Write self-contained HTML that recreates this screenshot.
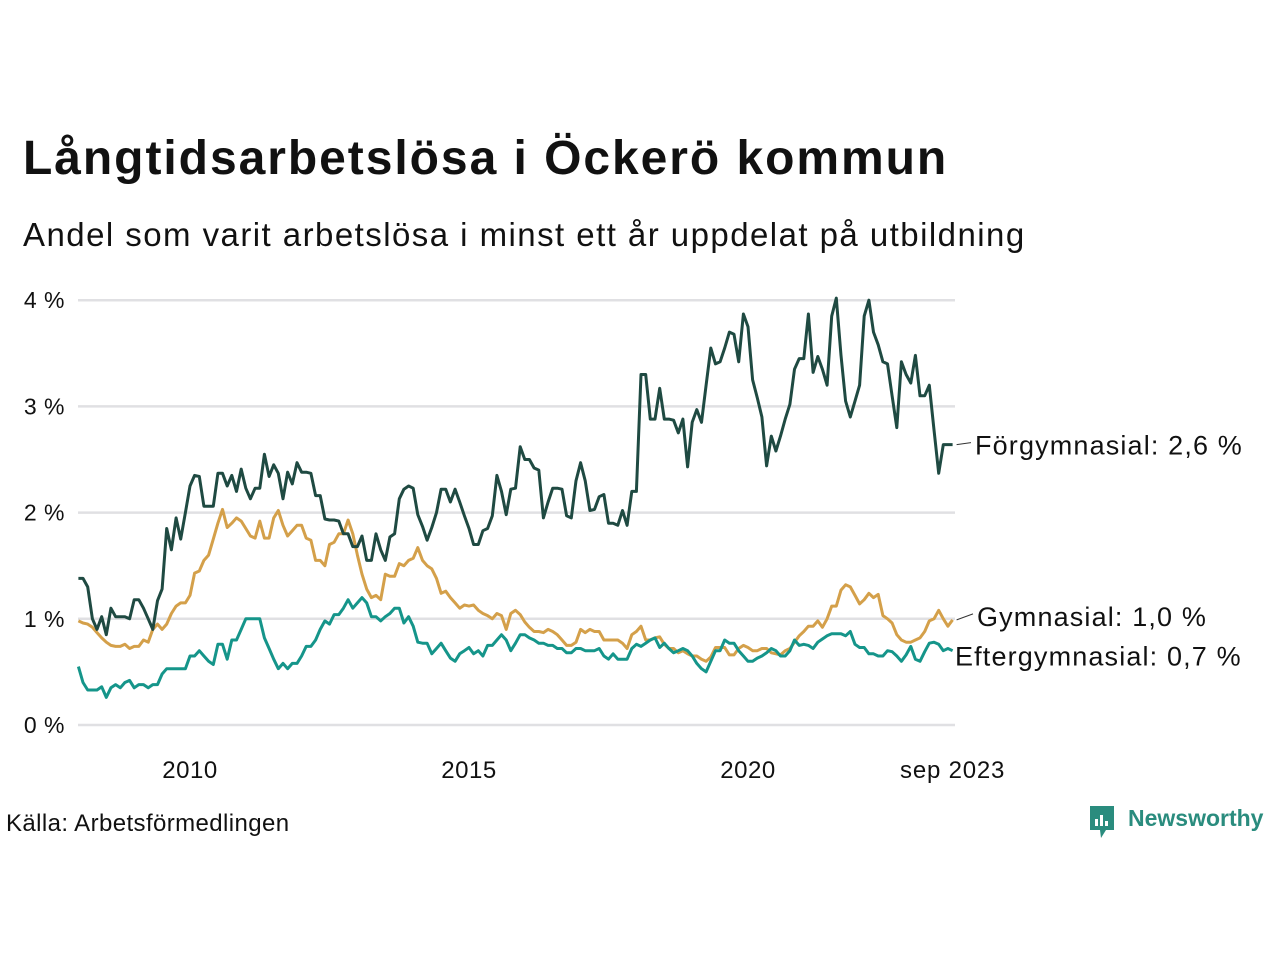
<!DOCTYPE html>
<html><head><meta charset="utf-8">
<style>
html,body{margin:0;padding:0;background:#fff;}
body{width:1280px;height:960px;position:relative;overflow:hidden;font-family:"Liberation Sans",sans-serif;color:#111;}
.t{position:absolute;white-space:nowrap;}
</style></head>
<body>
<div class="t" style="left:23px;top:131px;font-size:48px;font-weight:bold;letter-spacing:1.95px;">Långtidsarbetslösa i Öckerö kommun</div>
<div class="t" style="left:23px;top:216px;font-size:33px;letter-spacing:1.45px;">Andel som varit arbetslösa i minst ett år uppdelat på utbildning</div>
<svg id="chart" width="1280" height="960" style="position:absolute;left:0;top:0;" xmlns="http://www.w3.org/2000/svg"></svg>
<div class="t" style="left:6px;top:810px;font-size:24px;letter-spacing:0.4px;">Källa: Arbetsförmedlingen</div>
<div style="position:absolute;left:1088px;top:804px;">
<svg width="28" height="36" style="position:absolute;left:0;top:0"><path d="M2 2h24v24h-8l-5 8-1-8H2z" fill="#2a8c7e"/><rect x="7" y="15" width="3" height="7" fill="#fff"/><rect x="12" y="11" width="3" height="11" fill="#fff"/><rect x="17" y="17" width="3" height="5" fill="#fff"/></svg>
<div class="t" style="left:40px;top:1px;font-size:23px;font-weight:bold;color:#2a8c7e;">Newsworthy</div>
</div>
<script>
const years=[2010,2015,2020];
const yTicks=[0,1,2,3,4];
const forgym=[1.38,1.38,1.3,1.0,0.9,1.02,0.85,1.1,1.02,1.02,1.02,1.0,
1.18,1.18,1.1,1.0,0.9,1.17,1.28,1.85,1.65,1.95,1.75,2.0,
2.25,2.35,2.34,2.06,2.06,2.06,2.37,2.37,2.25,2.35,2.2,2.41,
2.23,2.13,2.23,2.23,2.55,2.34,2.45,2.37,2.13,2.38,2.27,2.47,
2.38,2.38,2.37,2.16,2.16,1.94,1.93,1.93,1.92,1.8,1.8,1.68,
1.68,1.78,1.55,1.55,1.8,1.65,1.55,1.77,1.8,2.13,2.22,2.25,
2.23,1.98,1.87,1.74,1.86,2.0,2.22,2.22,2.1,2.22,2.1,1.97,
1.85,1.7,1.7,1.83,1.85,1.97,2.35,2.2,1.98,2.22,2.23,2.62,
2.5,2.5,2.42,2.4,1.95,2.1,2.23,2.23,2.22,1.97,1.95,2.3,
2.47,2.3,2.02,2.03,2.15,2.17,1.9,1.9,1.88,2.02,1.88,2.2,
2.2,3.3,3.3,2.88,2.88,3.17,2.88,2.88,2.87,2.75,2.88,2.43,
2.85,2.97,2.85,3.2,3.55,3.4,3.42,3.55,3.7,3.68,3.42,3.87,
3.75,3.25,3.08,2.9,2.44,2.72,2.58,2.72,2.88,3.02,3.35,3.45,
3.45,3.87,3.32,3.47,3.35,3.2,3.85,4.02,3.48,3.05,2.9,3.05,
3.2,3.85,4.0,3.7,3.58,3.42,3.4,3.1,2.8,3.42,3.3,3.22,
3.48,3.1,3.1,3.2,2.78,2.37,2.64,2.64,2.64];
const gym=[0.98,0.96,0.95,0.92,0.87,0.82,0.78,0.75,0.74,0.74,0.76,0.72,
0.74,0.74,0.8,0.78,0.9,0.95,0.9,0.95,1.05,1.12,1.15,1.15,
1.22,1.43,1.45,1.55,1.6,1.75,1.9,2.03,1.86,1.9,1.95,1.92,
1.85,1.78,1.76,1.92,1.76,1.76,1.95,2.02,1.88,1.78,1.83,1.88,
1.88,1.76,1.74,1.55,1.55,1.5,1.7,1.72,1.8,1.8,1.93,1.8,
1.6,1.42,1.28,1.2,1.22,1.18,1.42,1.4,1.4,1.52,1.5,1.55,
1.57,1.67,1.55,1.5,1.47,1.38,1.24,1.26,1.2,1.15,1.1,1.13,
1.12,1.13,1.08,1.05,1.03,1.0,1.05,1.03,0.9,1.05,1.08,1.04,
0.97,0.92,0.88,0.88,0.87,0.9,0.88,0.85,0.8,0.75,0.75,0.78,
0.9,0.87,0.9,0.88,0.88,0.8,0.8,0.8,0.8,0.77,0.72,0.85,
0.88,0.93,0.8,0.8,0.82,0.83,0.76,0.72,0.72,0.68,0.7,0.67,
0.65,0.65,0.62,0.6,0.64,0.73,0.73,0.73,0.66,0.66,0.72,0.75,
0.73,0.7,0.7,0.72,0.72,0.68,0.67,0.66,0.7,0.72,0.78,0.84,
0.88,0.93,0.93,0.98,0.92,1.0,1.12,1.12,1.27,1.32,1.3,1.22,
1.14,1.18,1.24,1.2,1.23,1.03,1.0,0.96,0.85,0.8,0.78,0.78,
0.8,0.82,0.88,0.98,1.0,1.08,1.0,0.93,0.99];
const eftergym=[0.55,0.4,0.33,0.33,0.33,0.36,0.26,0.35,0.38,0.35,0.4,0.42,
0.35,0.38,0.38,0.35,0.38,0.38,0.48,0.53,0.53,0.53,0.53,0.53,
0.65,0.65,0.7,0.65,0.6,0.57,0.76,0.76,0.62,0.8,0.8,0.9,
1.0,1.0,1.0,1.0,0.82,0.72,0.62,0.53,0.58,0.53,0.58,0.58,
0.65,0.74,0.74,0.8,0.9,0.98,0.95,1.04,1.04,1.1,1.18,1.1,
1.15,1.2,1.15,1.02,1.02,0.98,1.02,1.05,1.1,1.1,0.96,1.02,
0.93,0.78,0.77,0.77,0.67,0.72,0.77,0.7,0.63,0.6,0.67,0.7,
0.73,0.67,0.7,0.65,0.75,0.75,0.8,0.85,0.8,0.7,0.77,0.85,
0.85,0.82,0.8,0.77,0.77,0.75,0.75,0.72,0.72,0.68,0.68,0.72,
0.72,0.7,0.7,0.7,0.72,0.65,0.62,0.67,0.62,0.62,0.62,0.72,
0.76,0.74,0.77,0.8,0.82,0.73,0.77,0.72,0.68,0.7,0.72,0.7,
0.65,0.58,0.53,0.5,0.6,0.7,0.7,0.8,0.77,0.77,0.7,0.65,
0.6,0.6,0.63,0.65,0.68,0.72,0.7,0.65,0.65,0.7,0.8,0.75,
0.76,0.75,0.72,0.78,0.81,0.84,0.86,0.86,0.86,0.84,0.88,0.76,
0.73,0.73,0.67,0.67,0.65,0.65,0.7,0.69,0.65,0.6,0.66,0.74,
0.62,0.6,0.69,0.77,0.78,0.76,0.7,0.72,0.7];
const seriesNames=["Förgymnasial: 2,6 %","Gymnasial: 1,0 %","Eftergymnasial: 0,7 %"];
const NS="http://www.w3.org/2000/svg";
const svg=document.getElementById('chart');
const x0=190, pxYear=55.8, startYear=2008;
function xScale(t){return x0+(t-2010)*pxYear;}
function xMonth(i){return xScale(startYear+i/12);}
function yScale(v){return 725-v*106.2;}
function mk(tag,attrs){const e=document.createElementNS(NS,tag);for(const k in attrs)e.setAttribute(k,attrs[k]);svg.appendChild(e);return e;}
const FONT='Liberation Sans, sans-serif';
yTicks.forEach(v=>{
 const l=mk('line',{x1:78,x2:955,y1:yScale(v),y2:yScale(v),stroke:'#e0e0e3','stroke-width':2.5});
 
 
 const t=mk('text',{x:65,y:yScale(v)+8,'text-anchor':'end','font-size':23,'font-family':FONT,fill:'#111','letter-spacing':0.5});
 t.textContent=v+' %';
 
 
});
years.forEach(yr=>{
 const t=mk('text',{x:xScale(yr),y:778,'text-anchor':'middle','font-size':24,'font-family':FONT,fill:'#111','letter-spacing':0.5});
 t.textContent=yr;
 
 
});
const lastT=mk('text',{x:xMonth(forgym.length-1),y:778,'text-anchor':'middle','font-size':24,'font-family':FONT,fill:'#111','letter-spacing':0.8});
lastT.textContent='sep 2023';


function drawLine(arr,color,name){
 const d=arr.map((v,i)=>(i?'L':'M')+xMonth(i).toFixed(1)+' '+yScale(v).toFixed(1)).join(' ');
 const p=mk('path',{d:d,fill:'none',stroke:color,'stroke-width':3,'stroke-linejoin':'round'});
 
 
}
drawLine(gym,'#d4a04a','line-gymnasial');
drawLine(eftergym,'#15958a','line-eftergymnasial');
drawLine(forgym,'#1f4a42','line-forgymnasial');
const n=forgym.length-1, xe=xMonth(n);
const lab=[[forgym[n],seriesNames[0],true,975,0],[gym[n],seriesNames[1],true,977,-4],[eftergym[n],seriesNames[2],false,955,5]];
lab.forEach((L,k)=>{
 const yy=yScale(L[0])+L[4];
 if(L[2]){const ln=mk('line',{x1:xe+4,x2:L[3]-4,y1:yScale(L[0]),y2:yy-2,stroke:'#333','stroke-width':1});
 
 }
 const t=mk('text',{x:L[3],y:yy+10,'font-size':27,'font-family':FONT,fill:'#111','letter-spacing':1.15});
 t.textContent=L[1];
 
 
});
</script>
</body></html>
